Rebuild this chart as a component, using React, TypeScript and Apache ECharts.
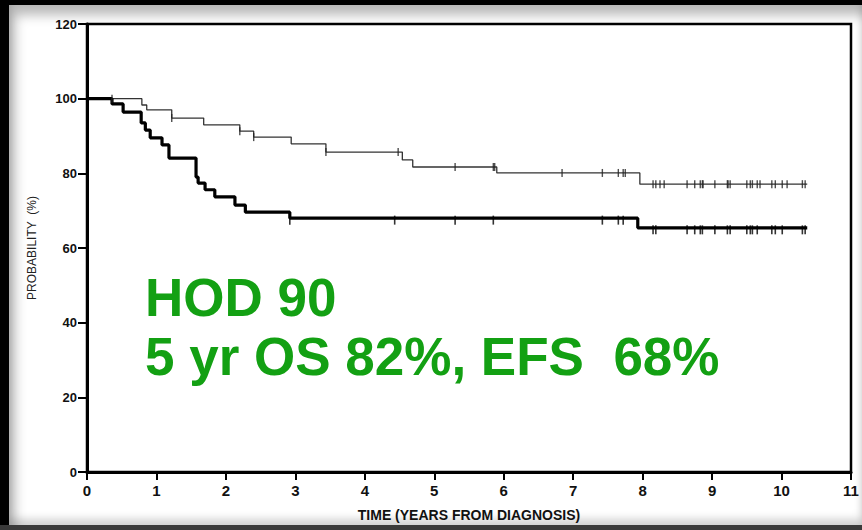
import React, { useEffect, useRef } from "react";
import * as echarts from "echarts";

// Overall survival (thin curve): step times (years) and survival (%) after each step
const osTimes = [0, 0.79, 0.86, 1.22, 1.68, 2.2, 2.4, 2.94, 3.44, 4.54, 4.69, 5.9, 7.96, 10.37];
const osValues = [100, 98.3, 97.0, 94.8, 93.0, 91.3, 89.7, 87.9, 85.7, 83.6, 81.7, 80.1, 77.1, 77.1];

// Event-free survival (thick curve)
const efsTimes = [0, 0.36, 0.52, 0.78, 0.84, 0.91, 1.08, 1.18, 1.57, 1.6, 1.7, 1.84, 2.13, 2.28, 2.92, 7.93, 10.37];
const efsValues = [100, 98.6, 96.4, 93.5, 91.6, 89.5, 87.6, 84.1, 79.0, 77.4, 75.6, 73.7, 71.5, 69.6, 68.0, 65.4, 65.4];

// Censored observations (years)
const osCensor = [0.36, 1.22, 2.2, 2.4, 3.44, 4.48, 5.3, 5.85, 5.87, 6.84, 7.42, 7.65, 7.72, 7.75, 8.15, 8.19, 8.25, 8.31, 8.64, 8.75, 8.83, 8.86, 8.87, 9.04, 9.22, 9.23, 9.26, 9.5, 9.55, 9.58, 9.65, 9.69, 9.86, 9.91, 10.01, 10.08, 10.3, 10.34];
const efsCensor = [2.92, 4.43, 5.3, 5.85, 7.42, 7.65, 7.72, 8.15, 8.19, 8.64, 8.75, 8.83, 8.86, 9.04, 9.22, 9.26, 9.5, 9.55, 9.58, 9.65, 9.86, 9.91, 10.01, 10.3, 10.34];

const xTicks = [0, 1, 2, 3, 4, 5, 6, 7, 8, 9, 10, 11];
const yTicks = [0, 20, 40, 60, 80, 100, 120];

const titleLine1 = "HOD 90";
const titleLine2 = "5 yr OS 82%, EFS  68%";

function stepValue(times: number[], values: number[], t: number): number {
  let v = values[0];
  for (let i = 0; i < times.length; i++) {
    if (times[i] <= t) v = values[i];
  }
  return v;
}

const labelFont = '"Liberation Sans Narrow", "Arial Narrow", "Liberation Sans", Arial, sans-serif';

export default function App() {
  const ref = useRef<HTMLDivElement>(null);

  useEffect(() => {
    document.body.style.margin = "0";
    if (!ref.current) return;
    const chart = echarts.init(ref.current, undefined, { renderer: "svg" });
    const osData = osTimes.map((t, i) => [t, osValues[i]]);
    const efsData = efsTimes.map((t, i) => [t, efsValues[i]]);
    const osC = osCensor.map((t) => [t, stepValue(osTimes, osValues, t)]);
    const efsC = efsCensor.map((t) => [t, stepValue(efsTimes, efsValues, t)]);

    const greenStyle = {
      font: 'bold 53px "Liberation Sans", Arial, sans-serif',
      fill: "#13a013",
      verticalAlign: "middle",
      align: "left",
      shadowColor: "rgba(0,0,0,0.25)",
      shadowBlur: 2,
      shadowOffsetX: 1.5,
      shadowOffsetY: 1.5,
    };

    chart.setOption({
      animation: false,
      backgroundColor: "transparent",
      grid: {
        left: 87,
        right: 11,
        top: 24,
        bottom: 58,
        show: true,
        borderColor: "#000",
        borderWidth: 2.5,
        backgroundColor: "#fff",
      },
      xAxis: {
        type: "value",
        min: xTicks[0],
        max: xTicks[xTicks.length - 1],
        interval: 1,
        name: "TIME (YEARS FROM DIAGNOSIS)",
        nameLocation: "middle",
        nameGap: 36,
        nameTextStyle: { fontFamily: labelFont, fontWeight: "bold", fontSize: 14, color: "#111" },
        axisLine: { show: true, lineStyle: { color: "#000", width: 3 } },
        axisTick: { show: true, length: 8, lineStyle: { color: "#000", width: 2 } },
        axisLabel: { fontFamily: labelFont, fontWeight: "bold", fontSize: 15, color: "#111", margin: 11 },
        splitLine: { show: false },
      },
      yAxis: {
        type: "value",
        min: yTicks[0],
        max: yTicks[yTicks.length - 1],
        interval: 20,
        name: "PROBABILITY  (%)",
        nameLocation: "middle",
        nameGap: 49,
        nameRotate: 90,
        nameTextStyle: { fontFamily: '"Liberation Sans", Arial, sans-serif', fontSize: 12, color: "#222" },
        axisLine: { show: true, lineStyle: { color: "#000", width: 3 } },
        axisTick: { show: true, length: 9, lineStyle: { color: "#000", width: 2 } },
        axisLabel: { fontFamily: '"Liberation Sans", Arial, sans-serif', fontWeight: "bold", fontSize: 13, color: "#111", margin: 10 },
        splitLine: { show: false },
      },
      series: [
        {
          name: "OS",
          type: "line",
          step: "end",
          data: osData,
          symbol: "none",
          lineStyle: { color: "#333", width: 1.3 },
          z: 3,
        },
        {
          name: "EFS",
          type: "line",
          step: "end",
          data: efsData,
          symbol: "none",
          lineStyle: { color: "#000", width: 3.2 },
          z: 4,
        },
        {
          name: "OS censored",
          type: "scatter",
          data: osC,
          symbol: "rect",
          symbolSize: [1.4, 8],
          itemStyle: { color: "#222" },
          z: 5,
        },
        {
          name: "EFS censored",
          type: "scatter",
          data: efsC,
          symbol: "rect",
          symbolSize: [1.6, 9],
          symbolOffset: [0, 2],
          itemStyle: { color: "#000" },
          z: 5,
        },
      ],
      graphic: [
        { type: "text", x: 145, y: 297, z: 10, style: { text: titleLine1, ...greenStyle } },
        { type: "text", x: 145, y: 356, z: 10, style: { text: titleLine2, ...greenStyle } },
      ],
    });
    return () => chart.dispose();
  }, []);

  return (
    <div style={{ position: "relative", width: 862, height: 530, background: "#000", overflow: "hidden" }}>
      <div
        style={{
          position: "absolute",
          left: 9,
          top: 5,
          width: 853,
          height: 520,
          background: "#fff",
          boxShadow: "inset 6px 10px 12px rgba(0,0,0,0.28), inset 0 -6px 8px rgba(0,0,0,0.18)",
        }}
      />
      <div
        style={{
          position: "absolute",
          left: 0,
          top: 525,
          width: 862,
          height: 5,
          background: "#3a3a3a",
        }}
      />
      <div ref={ref} style={{ position: "absolute", left: 0, top: 0, width: 862, height: 530 }} />
    </div>
  );
}
